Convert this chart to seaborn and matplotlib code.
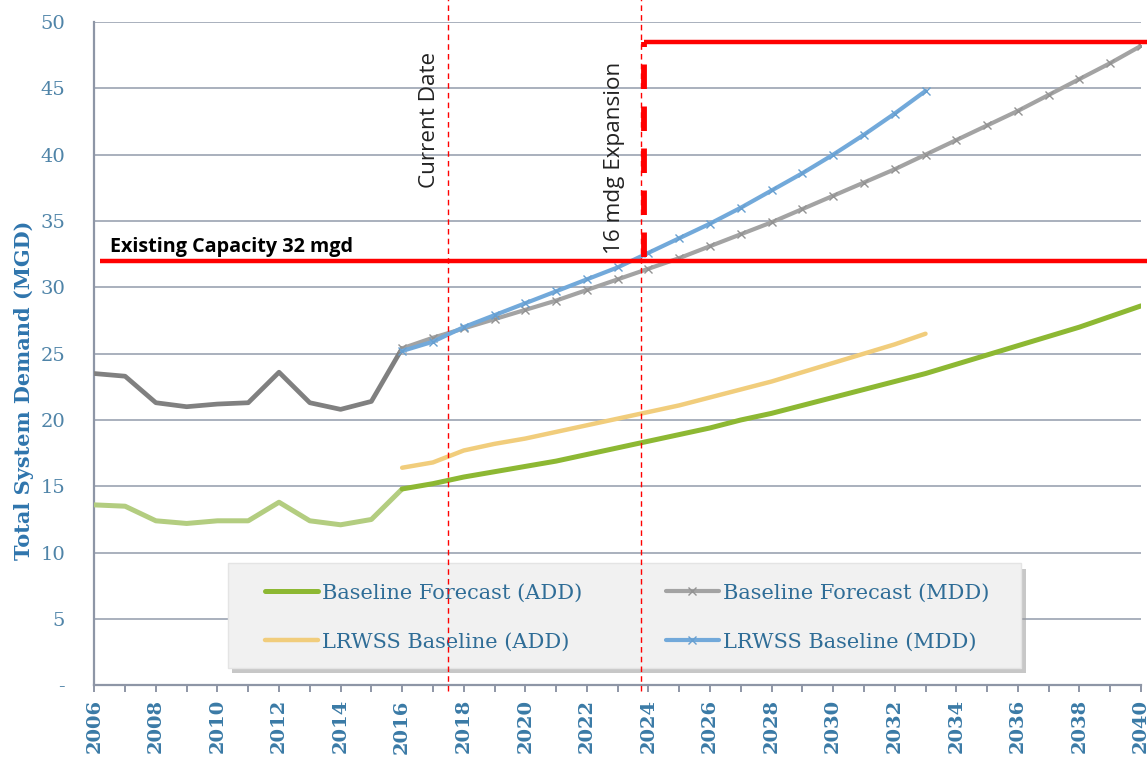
import matplotlib
matplotlib.use("Agg")
import matplotlib.pyplot as plt
from matplotlib.patches import Rectangle
import seaborn as sns

# Historical demand (MGD)
hist_years = list(range(2006, 2017))
hist_mdd = [23.5, 23.3, 21.3, 21.0, 21.2, 21.3, 23.6, 21.3, 20.8, 21.4, 25.4]
hist_add = [13.6, 13.5, 12.4, 12.2, 12.4, 12.4, 13.8, 12.4, 12.1, 12.5, 14.8]

# Baseline forecast 2016-2040
fc_years = list(range(2016, 2041))
base_mdd = [25.4, 26.2, 26.9, 27.6, 28.3, 29.0, 29.8, 30.6, 31.4, 32.2,
            33.1, 34.0, 34.9, 35.9, 36.9, 37.9, 38.9, 40.0, 41.1, 42.2,
            43.3, 44.5, 45.7, 46.9, 48.2]
base_add = [14.8, 15.2, 15.7, 16.1, 16.5, 16.9, 17.4, 17.9, 18.4, 18.9,
            19.4, 20.0, 20.5, 21.1, 21.7, 22.3, 22.9, 23.5, 24.2, 24.9,
            25.6, 26.3, 27.0, 27.8, 28.6]

# LRWSS baseline 2016-2033
lr_years = list(range(2016, 2034))
lr_mdd = [25.2, 25.9, 27.0, 27.9, 28.8, 29.7, 30.6, 31.5, 32.6, 33.7,
          34.8, 36.0, 37.3, 38.6, 40.0, 41.5, 43.1, 44.8]
lr_add = [16.4, 16.8, 17.7, 18.2, 18.6, 19.1, 19.6, 20.1, 20.6, 21.1,
          21.7, 22.3, 22.9, 23.6, 24.3, 25.0, 25.7, 26.5]

# Capacity and milestones
existing_capacity = 32.0
expanded_capacity = 48.5
capacity_start = 2006.2
current_date = 2017.5
expansion_date = 2023.85

y_ticks = [0, 5, 10, 15, 20, 25, 30, 35, 40, 45, 50]
y_tick_labels = ["-"] + [str(v) for v in y_ticks[1:]]
x_major = list(range(2006, 2041, 2))

series_labels = ["Baseline Forecast (ADD)", "LRWSS Baseline (ADD)",
                 "Baseline Forecast (MDD)", "LRWSS Baseline (MDD)"]

sns.set_style("white")
plt.rcParams["font.family"] = ["DejaVu Serif"]

fig = plt.figure(figsize=(11.47, 7.57), dpi=100)
ax = fig.add_axes([94.3 / 1147, 71.7 / 757, (1141 - 94.3) / 1147, (685.3 - 22) / 757])

GREEN = "#8db833"
GREEN_H = "#b3cd80"
ORANGE = "#f1cd7c"
GRAY = "#a3a3a3"
GRAY_H = "#808080"
BLUE = "#72a9da"
RED = "#ff0000"
TXT = "#3a7aa6"

# historical segments
sns.lineplot(x=hist_years, y=hist_mdd, ax=ax, color=GRAY_H, lw=3.4, zorder=3)
sns.lineplot(x=hist_years, y=hist_add, ax=ax, color=GREEN_H, lw=3.6, zorder=3)

# forecasts
sns.lineplot(x=fc_years, y=base_add, ax=ax, color=GREEN, lw=3.6, zorder=3,
             label=series_labels[0])
sns.lineplot(x=lr_years, y=lr_add, ax=ax, color=ORANGE, lw=3.2, zorder=3,
             label=series_labels[1])
sns.lineplot(x=fc_years, y=base_mdd, ax=ax, color=GRAY, lw=3.0, zorder=3,
             marker="x", markersize=5.5, markeredgewidth=1.0, markeredgecolor="#939393",
             label=series_labels[2])
sns.lineplot(x=lr_years, y=lr_mdd, ax=ax, color=BLUE, lw=3.0, zorder=3,
             marker="x", markersize=5.5, markeredgewidth=1.0, markeredgecolor="#679fd0",
             label=series_labels[3])

# capacity lines
ax.plot([capacity_start, 2040.2], [existing_capacity, existing_capacity],
        color=RED, lw=3.2, zorder=4, clip_on=False, solid_capstyle="butt")
ax.plot([expansion_date, 2040.2], [expanded_capacity, expanded_capacity],
        color=RED, lw=3.2, zorder=4, clip_on=False, solid_capstyle="butt")
ax.plot([expansion_date, expansion_date], [existing_capacity + 0.3, expanded_capacity],
        color=RED, lw=4.2, zorder=4, linestyle=(0, (4.2, 3.0)), solid_capstyle="butt")

# milestone markers
for xd in (current_date, expansion_date - 0.08):
    ax.plot([xd, xd], [-0.4, 51.7], color=RED, lw=1.0, linestyle=(0, (4, 3)),
            zorder=7, clip_on=False)

ax.text(capacity_start + 0.3, existing_capacity + 0.25, "Existing Capacity 32 mgd",
        family=["Open Sans", "DejaVu Sans"], fontweight="bold", fontsize=14.2,
        color="black", ha="left", va="bottom", zorder=6)
ax.text(current_date - 0.62, 37.5, "Current Date", family=["Open Sans", "DejaVu Sans"],
        fontsize=16.2, color="#222222", rotation=90, ha="center", va="bottom")
ax.text(expansion_date - 0.95, 32.5, "16 mdg Expansion", family=["Open Sans", "DejaVu Sans"],
        fontsize=16.2, color="#222222", rotation=90, ha="center", va="bottom")

# axes styling
ax.set_xlim(2006, 2040)
ax.set_ylim(0, 50)
ax.set_yticks(y_ticks)
ax.set_yticklabels(y_tick_labels)
ax.set_xticks(x_major)
ax.set_xticks(list(range(2006, 2041)), minor=True)
ax.set_xticklabels([str(v) for v in x_major], rotation=90, fontweight="bold")
ax.grid(axis="y", color="#a9b0bd", lw=1.4, zorder=0)
ax.grid(axis="x", visible=False)
ax.set_axisbelow(True)
for side in ("top", "right"):
    ax.spines[side].set_visible(False)
for side in ("left", "bottom"):
    ax.spines[side].set_color("#8e96a6")
    ax.spines[side].set_linewidth(1.6)
ax.tick_params(axis="y", which="both", length=5, width=1.4, color="#8e96a6",
               direction="out", pad=16, labelsize=14, labelcolor="#4f84a8")
ax.tick_params(axis="x", which="both", length=5, width=1.4, color="#8e96a6",
               direction="out", pad=5, labelsize=14, labelcolor=TXT, bottom=True)

ax.set_ylabel("Total System Demand (MGD)", fontsize=15, fontweight="bold", color="#2f75ad")
ax.yaxis.set_label_coords(-0.058, 0.445)
ax.set_xlabel("")

# legend box with a soft drop shadow
box = (0.1277, 0.026, 0.758, 0.158)
ax.add_patch(Rectangle((box[0] + 0.004, box[1] - 0.008), box[2], box[3],
                       transform=ax.transAxes, facecolor="#9a9a9a", edgecolor="none",
                       alpha=0.55, zorder=4.8))
ax.add_patch(Rectangle((box[0], box[1]), box[2], box[3], transform=ax.transAxes,
                       facecolor="#f1f1f1", edgecolor="#e4e4e4", lw=1.0, zorder=4.9))

handles, labels = ax.get_legend_handles_labels()
lookup = dict(zip(labels, handles))
leg = ax.legend([lookup[l] for l in series_labels], series_labels, ncol=2,
                loc="upper left", bbox_to_anchor=(0.1631, 0.1535),
                fontsize=15, labelcolor="#2f6d97", frameon=False,
                handlelength=2.55, handletextpad=0.2, borderaxespad=0, borderpad=0,
                labelspacing=1.45, columnspacing=4.0)
leg.set_zorder(5)

fig.savefig("out.png", dpi=100)
